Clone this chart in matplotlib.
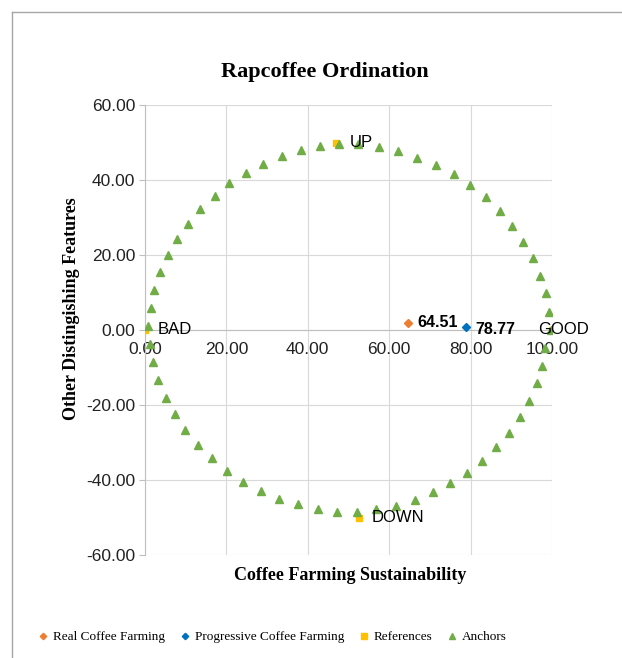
import matplotlib
matplotlib.use("Agg")
import matplotlib.pyplot as plt
from matplotlib.lines import Line2D

# Ordination results
real_x = [64.51]
real_y = [1.9]
prog_x = [78.77]
prog_y = [0.7]

ref_names = ["BAD", "GOOD", "UP", "DOWN"]
ref_x = [0.0, 100.0, 47.0, 52.5]
ref_y = [0.0, 0.0, 50.0, -50.0]

anchor_x = [0.8, 1.4, 2.2, 3.7, 5.6, 7.9, 10.6, 13.6, 17.1, 20.7, 24.8, 29.1, 33.6, 38.3, 42.9, 47.7,
            52.3, 57.5, 62.2, 66.9, 71.5, 75.8, 79.9, 83.7, 87.2, 90.2, 92.9, 95.3, 97.1, 98.5, 99.3, 99.8,
            98.3, 97.5, 96.2, 94.4, 92.1, 89.4, 86.2, 82.9, 79.1, 75.0, 70.8, 66.3, 61.7, 56.8, 52.0,
            47.2, 42.4, 37.7, 33.0, 28.5, 24.2, 20.1, 16.4, 12.9, 9.9, 7.3, 5.1, 3.3, 1.9, 1.2]
anchor_y = [1.2, 5.9, 10.7, 15.4, 19.9, 24.3, 28.4, 32.3, 35.8, 39.1, 42.0, 44.4, 46.3, 48.0, 49.0, 49.7,
            49.7, 48.7, 47.7, 46.0, 44.0, 41.6, 38.7, 35.4, 31.8, 27.8, 23.6, 19.1, 14.5, 9.8, 4.7, 0.0,
            -4.9, -9.5, -14.0, -18.8, -23.2, -27.4, -31.3, -34.8, -38.1, -40.9, -43.3, -45.3, -46.8, -47.7, -48.6,
            -48.4, -47.7, -46.5, -45.0, -42.9, -40.4, -37.5, -34.2, -30.6, -26.7, -22.5, -18.0, -13.3, -8.5, -3.7]

x_ticks = [0, 20, 40, 60, 80, 100]
y_ticks = [-60, -40, -20, 0, 20, 40, 60]

SANS = "Liberation Sans"
SERIF = "Liberation Serif"

fig = plt.figure(figsize=(6.22, 6.58), dpi=100)
ax = fig.add_axes([145 / 622, 1 - 555 / 658, 407 / 622, 450 / 658])

# axis lines cross at the origin
for s in ["top", "right"]:
    ax.spines[s].set_visible(False)
ax.spines["bottom"].set_position(("data", 0))
for s in ["bottom", "left"]:
    ax.spines[s].set_color("#bfbfbf")
    ax.spines[s].set_linewidth(0.8)

ax.plot(real_x, real_y, linestyle="none", marker="D", ms=3.6, color="#ED7D31",
        label="Real Coffee Farming", zorder=3)
ax.plot(prog_x, prog_y, linestyle="none", marker="D", ms=3.6, color="#0070C0",
        label="Progressive Coffee Farming", zorder=3)
ax.plot(ref_x, ref_y, linestyle="none", marker="s", ms=5, color="#FFC000",
        label="References", zorder=4)
ax.plot(anchor_x, anchor_y, linestyle="none", marker="^", ms=5.4, color="#70AD47",
        label="Anchors", zorder=5)

# point labels
ax.text(real_x[0] + 2.5, real_y[0], "%.2f" % real_x[0], fontsize=11.5, fontweight="bold",
        family=SANS, va="center", ha="left", zorder=6)
ax.text(prog_x[0] + 2.5, prog_y[0] - 0.6, "%.2f" % prog_x[0], fontsize=11.5, fontweight="bold",
        family=SANS, va="center", ha="left", zorder=6)
offsets = {"BAD": (3.0, 0.0), "GOOD": (-3.4, 0.0), "UP": (3.2, 0.0), "DOWN": (3.2, 0.0)}
for name, x, y in zip(ref_names, ref_x, ref_y):
    dx, dy = offsets[name]
    ax.text(x + dx, y + dy, name, fontsize=12, family=SANS, va="center", ha="left", zorder=6)

ax.set_xlim(0, 100)
ax.set_ylim(-60, 60)
ax.set_xticks(x_ticks)
ax.set_yticks(y_ticks)
ax.set_xticklabels(["%.2f" % v for v in x_ticks])
ax.set_yticklabels(["%.2f" % v for v in y_ticks])
for lbl in ax.get_xticklabels() + ax.get_yticklabels():
    lbl.set_family(SANS)
ax.tick_params(axis="both", labelsize=12.5, labelcolor="#222222")
ax.tick_params(axis="y", length=4, color="#bfbfbf", pad=3)
ax.tick_params(axis="x", length=0, pad=9)
ax.grid(True, color="#d9d9d9", linewidth=0.8)
ax.set_axisbelow(True)

fig.text(325 / 622, 1 - 72 / 658, "Rapcoffee Ordination", family=SERIF,
         fontweight="bold", fontsize=16, ha="center", va="center")
fig.text(350 / 622, 1 - 576 / 658, "Coffee Farming Sustainability", family=SERIF,
         fontweight="bold", fontsize=13, ha="center", va="center")
fig.text(72 / 622, 1 - 309 / 658, "Other Distingishing Features", family=SERIF,
         fontweight="bold", fontsize=13, ha="center", va="center", rotation=90)

fig.legend(loc="center", bbox_to_anchor=(271 / 622, 1 - 637 / 658), ncol=4,
           frameon=False, prop={"family": SERIF, "size": 9.5}, handletextpad=0.15,
           columnspacing=0.9, handlelength=1.2, markerscale=0.9)

# chart frame
frame_kw = dict(color="#a6a6a6", linewidth=1.0, transform=fig.transFigure)
fig.add_artist(Line2D([12 / 622, 1.0], [1 - 12 / 658, 1 - 12 / 658], **frame_kw))
fig.add_artist(Line2D([12 / 622, 12 / 622], [0.0, 1 - 12 / 658], **frame_kw))

fig.savefig("out.png", dpi=100)
